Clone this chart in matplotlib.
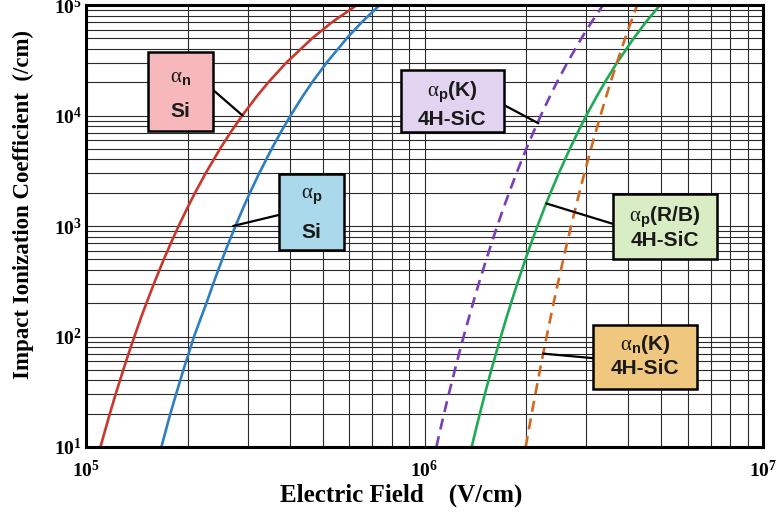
import matplotlib
matplotlib.use("Agg")
import matplotlib.pyplot as plt
from matplotlib.patches import Rectangle

plt.rcParams["mathtext.fontset"] = "custom"
plt.rcParams["mathtext.rm"] = "Liberation Serif"
plt.rcParams["mathtext.it"] = "Liberation Serif"
plt.rcParams["mathtext.bf"] = "Liberation Sans:bold"
plt.rcParams["mathtext.sf"] = "Liberation Serif:bold"

# Impact ionization coefficient (/cm) sampled at these levels
alpha = [1e1, 1.5e1, 2e1, 3e1, 5e1, 7e1,
         1e2, 1.5e2, 2e2, 3e2, 5e2, 7e2,
         1e3, 1.5e3, 2e3, 3e3, 5e3, 7e3,
         1e4, 1.5e4, 2e4, 3e4, 5e4, 7e4, 1e5]

# Electric field (V/cm) at which each curve reaches the levels above
si_n_field = [1.103e5, 1.145e5, 1.176e5, 1.223e5, 1.289e5, 1.336e5,
              1.390e5, 1.456e5, 1.508e5, 1.587e5, 1.698e5, 1.781e5,
              1.878e5, 2.002e5, 2.100e5, 2.256e5, 2.489e5, 2.671e5,
              2.894e5, 3.200e5, 3.458e5, 3.903e5, 4.658e5, 5.336e5, 6.313e5]
si_p_field = [1.670e5, 1.730e5, 1.775e5, 1.845e5, 1.940e5, 2.010e5,
              2.085e5, 2.190e5, 2.268e5, 2.376e5, 2.526e5, 2.636e5,
              2.764e5, 2.925e5, 3.051e5, 3.248e5, 3.537e5, 3.757e5,
              4.021e5, 4.371e5, 4.658e5, 5.135e5, 5.895e5, 6.530e5, 7.374e5]
sic_p_k_field = [1.084e6, 1.117e6, 1.142e6, 1.179e6, 1.230e6, 1.265e6,
                 1.305e6, 1.354e6, 1.391e6, 1.446e6, 1.523e6, 1.578e6,
                 1.640e6, 1.718e6, 1.778e6, 1.869e6, 1.999e6, 2.095e6,
                 2.206e6, 2.349e6, 2.462e6, 2.641e6, 2.908e6, 3.115e6, 3.369e6]
sic_p_rb_field = [1.378e6, 1.423e6, 1.457e6, 1.507e6, 1.576e6, 1.626e6,
                  1.681e6, 1.749e6, 1.801e6, 1.879e6, 1.987e6, 2.066e6,
                  2.157e6, 2.269e6, 2.357e6, 2.493e6, 2.688e6, 2.834e6,
                  3.006e6, 3.231e6, 3.411e6, 3.703e6, 4.150e6, 4.508e6, 4.963e6]
sic_n_k_field = [1.990e6, 2.038e6, 2.073e6, 2.125e6, 2.194e6, 2.242e6,
                 2.295e6, 2.359e6, 2.406e6, 2.476e6, 2.571e6, 2.637e6,
                 2.711e6, 2.800e6, 2.867e6, 2.967e6, 3.103e6, 3.201e6,
                 3.310e6, 3.444e6, 3.546e6, 3.701e6, 3.915e6, 4.071e6, 4.250e6]

# Points on each curve where the label leader lines end (field, coefficient)
leader_points = [(2.90e5, 1.0e4), (2.72e5, 1.0e3), (2.17e6, 8.5e3),
                 (2.29e6, 1.6e3), (2.24e6, 7.0e1)]

x_ticks = [1e5, 1e6, 1e7]
x_tick_labels = [r"$\mathsf{10^{5}}$", r"$\mathsf{10^{6}}$", r"$\mathsf{10^{7}}$"]
y_ticks = [1e1, 1e2, 1e3, 1e4, 1e5]
y_tick_labels = [r"$\mathsf{10^{1}}$", r"$\mathsf{10^{2}}$", r"$\mathsf{10^{3}}$",
                 r"$\mathsf{10^{4}}$", r"$\mathsf{10^{5}}$"]

fig = plt.figure(figsize=(7.77, 5.16), dpi=100)
ax = fig.add_axes([86 / 777, 69 / 516, 677 / 777, 442 / 516])
ax.set_xscale("log")
ax.set_yscale("log")
ax.set_xlim(1e5, 1e7)
ax.set_ylim(1e1, 1e5)

ax.grid(True, which="both", color="#2a2a2a", lw=0.8)
ax.set_axisbelow(True)

lw = 1.9
ax.plot(si_n_field, alpha, color="#c8382c", lw=lw)
ax.plot(si_p_field, alpha, color="#2f7ec1", lw=lw)
ax.plot(sic_p_k_field, alpha, color="#7b3db8", lw=lw, dashes=(4.2, 2.6))
ax.plot(sic_p_rb_field, alpha, color="#1faa55", lw=lw)
ax.plot(sic_n_k_field, alpha, color="#d2691e", lw=lw, dashes=(4.2, 2.6))

for side in ax.spines.values():
    side.set_linewidth(2.2)
    side.set_color("black")

ax.set_xticks(x_ticks)
ax.set_xticklabels(x_tick_labels)
ax.set_yticks(y_ticks)
ax.set_yticklabels(y_tick_labels)
ax.tick_params(which="both", length=0)
ax.tick_params(axis="x", pad=9)
ax.tick_params(axis="y", pad=3)
for lab in ax.get_xticklabels() + ax.get_yticklabels():
    lab.set_fontsize(14)

ax.set_xlabel("Electric Field    (V/cm)", fontfamily="Liberation Serif",
              fontweight="bold", fontsize=18)
ax.xaxis.set_label_coords(0.465, -0.083)
ax.set_ylabel("Impact Ionization Coefficient  (/cm)", fontfamily="Liberation Serif",
              fontweight="bold", fontsize=16.5)
ax.yaxis.set_label_coords(-0.077, 0.548)

# Label boxes: (x0, y0, x1, y1) in axes fraction, fill, two text lines and
# their heights from the box top, and leader start point on the box edge
boxes = [
    dict(rect=(0.0916, 0.715, 0.1876, 0.894), fill="#f6b8bb",
         lines=[r"$\mathrm{\alpha}_\mathbf{n}$", "Si"], pos=(0.32, 0.76),
         start=(0.1876, 0.808)),
    dict(rect=(0.285, 0.446, 0.381, 0.618), fill="#a9d9ea",
         lines=[r"$\mathrm{\alpha}_\mathbf{p}$", "Si"], pos=(0.30, 0.77),
         start=(0.285, 0.525)),
    dict(rect=(0.465, 0.712, 0.617, 0.853), fill="#e2d4f0",
         lines=[r"$\mathrm{\alpha}_\mathbf{p}\mathbf{(K)}$", "4H-SiC"], pos=(0.36, 0.80),
         start=(0.617, 0.774)),
    dict(rect=(0.778, 0.425, 0.932, 0.572), fill="#d9edc5",
         lines=[r"$\mathrm{\alpha}_\mathbf{p}\mathbf{(R/B)}$", "4H-SiC"], pos=(0.35, 0.72),
         start=(0.778, 0.505)),
    dict(rect=(0.749, 0.131, 0.9025, 0.276), fill="#f0c77e",
         lines=[r"$\mathrm{\alpha}_\mathbf{n}\mathbf{(K)}$", "4H-SiC"], pos=(0.30, 0.68),
         start=(0.749, 0.201)),
]

for b, target in zip(boxes, leader_points):
    x0, y0, x1, y1 = b["rect"]
    ax.annotate("", xy=target, xycoords="data", xytext=b["start"],
                textcoords="axes fraction",
                arrowprops=dict(arrowstyle="-", lw=1.6, color="black",
                                shrinkA=0, shrinkB=0), zorder=4)
    ax.add_patch(Rectangle((x0, y0), x1 - x0, y1 - y0, transform=ax.transAxes,
                           facecolor=b["fill"], edgecolor="black", lw=1.8,
                           zorder=5, clip_on=False))
    cx = (x0 + x1) / 2
    for text, frac in zip(b["lines"], b["pos"]):
        ty = y1 - frac * (y1 - y0)
        ax.text(cx, ty, text, transform=ax.transAxes, ha="center", va="center",
                fontfamily="Liberation Sans", fontweight="bold", fontsize=15,
                color="#1a1a1a", zorder=6)

fig.savefig("out.png", dpi=100)
